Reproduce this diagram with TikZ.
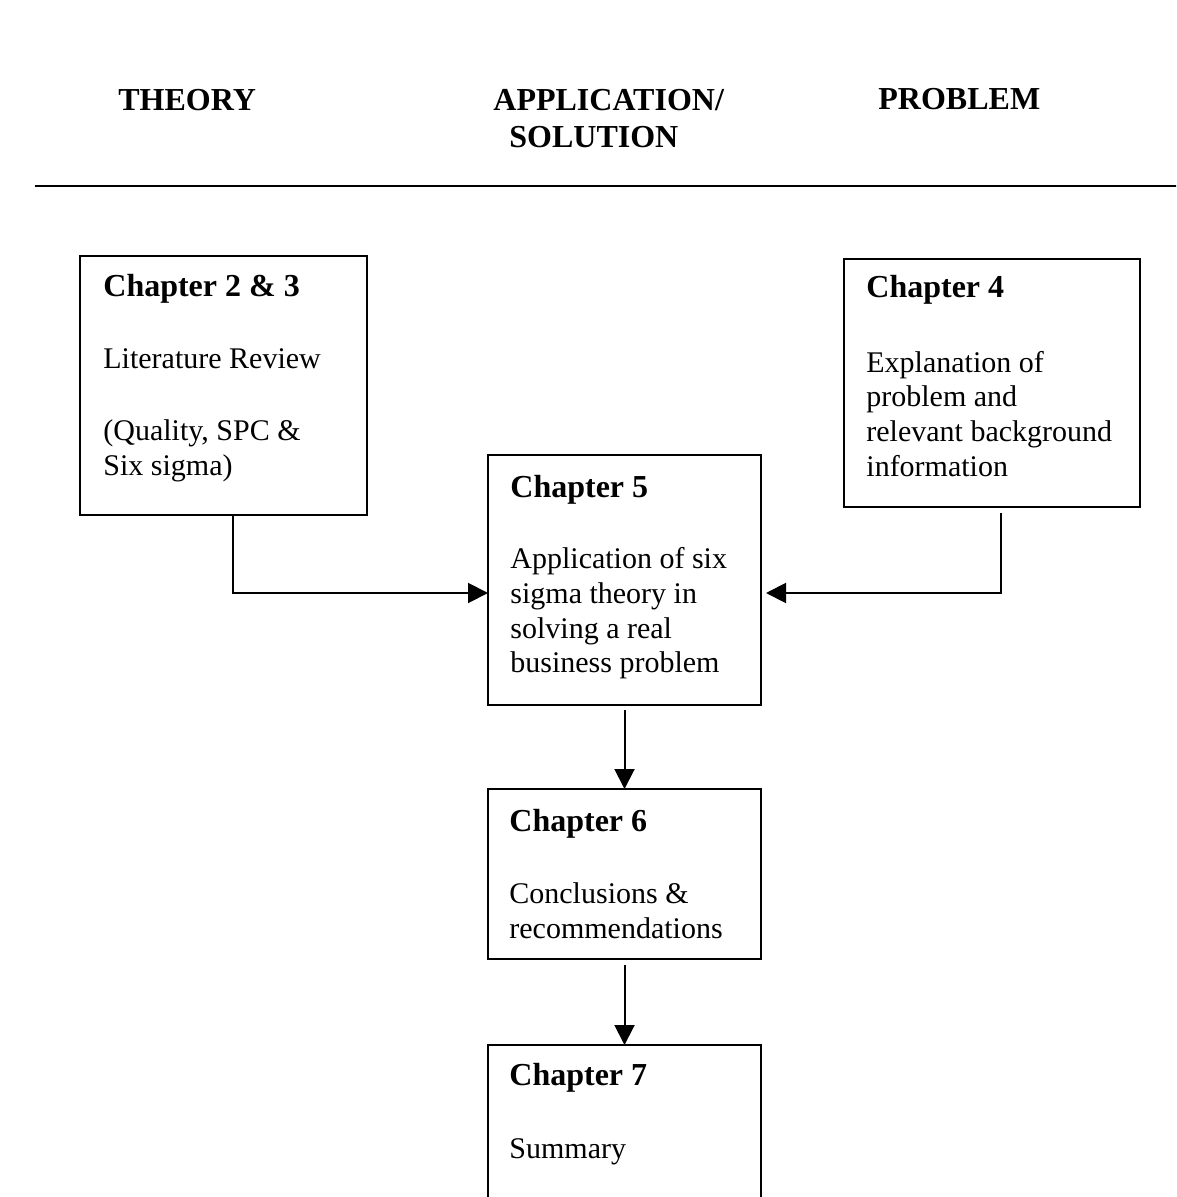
\documentclass[tikz,border=0pt]{standalone}
\usepackage{fontspec}
\setmainfont{Liberation Serif}
\usetikzlibrary{arrows.meta}
\begin{document}
\begin{tikzpicture}[x=0.5pt,y=-0.5pt,
  box/.style={draw, line width=1pt, inner sep=0pt, outer sep=0pt},
  hd/.style={anchor=base west, inner sep=0pt, font=\fontsize{16}{19}\selectfont\bfseries},
  ttl/.style={anchor=base west, inner sep=0pt, font=\fontsize{16}{19}\selectfont\bfseries},
  txt/.style={anchor=base west, inner sep=0pt, font=\fontsize{15}{17.5}\selectfont},
  conn/.style={line width=1pt, -{Triangle[length=10pt,width=10pt]}}
]
\useasboundingbox (0,0) rectangle (1176,1197);
\clip (0,0) rectangle (1176,1197);

% headers
\node[hd] (hTheory) at (118,111) {THEORY};
\node[hd] (hApp) at (493,111) {APPLICATION/};
\node[hd] (hSol) at (509,148) {SOLUTION};
\node[hd] (hProb) at (878,110) {PROBLEM};
\coordinate (ruleL) at (35,186);
\coordinate (ruleR) at (1180,186);
\draw[line width=1pt] (ruleL) -- (ruleR);

% boxes
\node[box, minimum width=143.5pt, minimum height=129.5pt] (c23) at (223.5,385.5) {};
\node[box, minimum width=148pt, minimum height=124pt] (c4) at (992,383) {};
\node[box, minimum width=136.5pt, minimum height=125pt] (c5) at (624.5,580) {};
\node[box, minimum width=136.5pt, minimum height=85pt] (c6) at (624.5,874) {};
\node[box, minimum width=136.5pt, minimum height=85pt] (c7) at (624.5,1130) {};

% texts
\node[ttl] (t23) at (103,297) {Chapter 2 \& 3};
\node[txt] (t23a) at (103,369) {Literature Review};
\node[txt] (t23b) at (103,440) {(Quality, SPC \&};
\node[txt] (t23c) at (103,475) {Six sigma)};

\node[ttl] (t4) at (866,298) {Chapter 4};
\node[txt] (t4a) at (866,372) {Explanation of};
\node[txt] (t4b) at (866,407) {problem and};
\node[txt] (t4c) at (866,441) {relevant background};
\node[txt] (t4d) at (866,476) {information};

\node[ttl] (t5) at (510,497) {Chapter 5};
\node[txt] (t5a) at (510,568) {Application of six};
\node[txt] (t5b) at (510,603) {sigma theory in};
\node[txt] (t5c) at (510,638) {solving a real};
\node[txt] (t5d) at (510,672) {business problem};

\node[ttl] (t6) at (509,831) {Chapter 6};
\node[txt] (t6a) at (509,903) {Conclusions \&};
\node[txt] (t6b) at (509,938) {recommendations};

\node[ttl] (t7) at (509,1085) {Chapter 7};
\node[txt] (t7a) at (509,1158) {Summary};

% connectors
\coordinate (k1) at (233,593);
\coordinate (k2) at (1001,593);
\draw[conn] (c23.south -| k1) -- (k1) -- (c5.west |- k1);
\draw[conn, shorten <=3pt] (c4.south -| k2) -- (k2) -- ([xshift=2.5pt]c5.east |- k2);
\draw[conn] ([yshift=-2.5pt]c5.south) -- (c6.north);
\draw[conn] ([yshift=-3pt]c6.south) -- (c7.north);
\end{tikzpicture}
\end{document}
